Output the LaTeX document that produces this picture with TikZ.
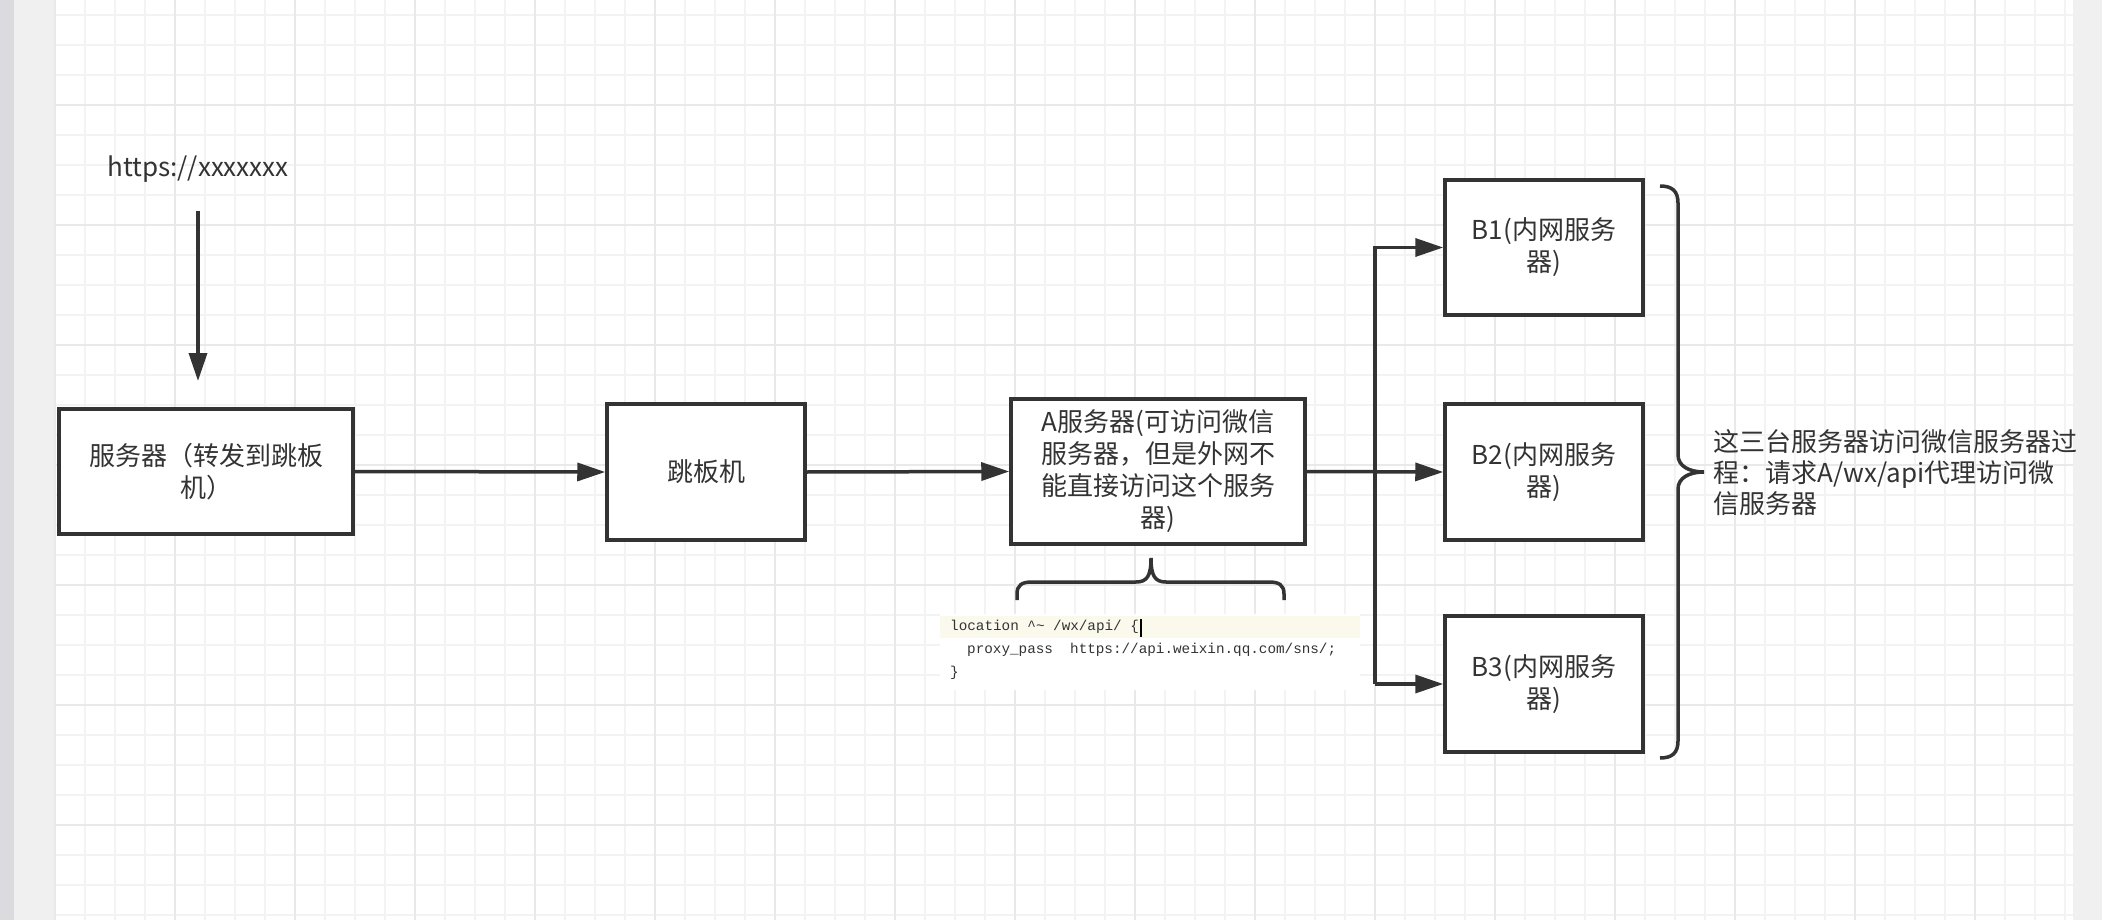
\documentclass[tikz,border=0pt]{standalone}
\usepackage{fontspec}
\setmainfont{Noto Sans CJK SC}
\setmonofont{Liberation Mono}
\usetikzlibrary{arrows.meta}
\definecolor{ink}{HTML}{333333}
\definecolor{sidegray}{HTML}{DADADF}
\definecolor{padgray}{HTML}{F0F0F0}
\definecolor{minorgrid}{HTML}{F3F3F3}
\definecolor{majorgrid}{HTML}{E9E9E9}
\definecolor{codehl}{HTML}{FBF9EC}
\tikzset{
  box/.style={draw=ink, line width=3.5pt, fill=white, text=ink, align=center,
    inner sep=0pt, font=\fontsize{26}{32}\selectfont},
  arr/.style={draw=ink, line width=3.5pt, -{Triangle[length=28pt,width=18pt]}},
  bracepath/.style={draw=ink, line width=3.5pt},
  plaintext/.style={text=ink, inner sep=0pt, font=\fontsize{26}{31}\selectfont},
  codetext/.style={text=ink, inner sep=0pt, anchor=west, font=\ttfamily\fontsize{14.3}{17}\selectfont}
}
\begin{document}
\begin{tikzpicture}[x=1pt,y=-1pt]
\useasboundingbox (0,0) rectangle (2102,920);
% page background
\fill[white] (0,0) rectangle (2102,920);
\fill[sidegray] (0,0) rectangle (14,920);
\fill[padgray] (14,0) rectangle (55,920);
\fill[padgray] (2073,0) rectangle (2102,920);
% grid
\foreach \i in {0,...,67} {
  \draw[minorgrid, line width=1.5pt] ({55+30*\i},0) -- ({55+30*\i},920);
}
\foreach \j in {0,...,30} {
  \draw[minorgrid, line width=1.5pt] (55,{15+30*\j}) -- (2073,{15+30*\j});
}
\foreach \i in {0,...,16} {
  \draw[majorgrid, line width=2.5pt] ({55+120*\i},0) -- ({55+120*\i},920);
}
\foreach \j in {0,...,6} {
  \draw[majorgrid, line width=2.5pt] (55,{105+120*\j}) -- (2073,{105+120*\j});
}

% nodes
\node[plaintext] (url) at (198,169) {https://xxxxxxx};
\coordinate (urlfrom) at (198,211);
\coordinate (urlto) at (198,381);

\node[box, minimum width=294pt, minimum height=125pt] (s1) at (206,471.5) {服务器（转发到跳板\\机）};
\node[box, minimum width=198pt, minimum height=136pt] (jb) at (706,472) {跳板机};
\node[box, minimum width=294pt, minimum height=145pt] (A) at (1158,471.5) {A服务器(可访问微信\\服务器，但是外网不\\能直接访问这个服务\\器)};
\node[box, minimum width=198pt, minimum height=135pt] (B1) at (1544,247.5) {B1(内网服务\\器)};
\node[box, minimum width=198pt, minimum height=136pt] (B2) at (1544,472) {B2(内网服务\\器)};
\node[box, minimum width=198pt, minimum height=136pt] (B3) at (1544,684) {B3(内网服务\\器)};

\node[plaintext, align=left, anchor=west] (note) at (1713,473) {这三台服务器访问微信服务器过\\程：请求A/wx/api代理访问微\\信服务器};

% connectors
\draw[arr] (urlfrom) -- (urlto);
\draw[arr] (s1.east) -- (jb.west);
\draw[arr] (jb.east) -- (A.west);
\draw[arr] (A.east) -- (B2.west);
\coordinate (trunk) at (1375,472);
\draw[arr] (trunk |- B3.west) -- (trunk |- B1.west) -- (B1.west);
\draw[arr] (trunk |- B3.west) -- (B3.west);

% brace under A
\draw[bracepath] (1017,600) -- (1017,594) .. controls (1017,585) and (1022,582) .. (1032,582)
  -- (1136,582) .. controls (1147,582) and (1151,576) .. (1151,558)
  .. controls (1151,576) and (1155,582) .. (1166,582) -- (1269,582)
  .. controls (1279,582) and (1284,585) .. (1284,594) -- (1284,600);

% brace right of B boxes
\draw[bracepath] (1660,186) .. controls (1672,186) and (1678,191) .. (1678,203)
  -- (1678,455) .. controls (1678,466) and (1689,472) .. (1704,472)
  .. controls (1689,472) and (1678,478) .. (1678,489)
  -- (1678,741) .. controls (1678,753) and (1672,758) .. (1660,758);

% code snippet
\fill[white] (940,614) rectangle (1360,690);
\fill[codehl] (940,616) rectangle (1360,638);
\node[codetext] (c1) at (950,627) {location \textasciicircum\textasciitilde{} /wx/api/ \{};
\draw[black, line width=1.3pt] (1141,619) -- (1141,637);
\node[codetext] (c2) at (967,650) {proxy\_pass~~https://api.weixin.qq.com/sns/;};
\node[codetext] (c3) at (950,673) {\}};
\end{tikzpicture}
\end{document}
